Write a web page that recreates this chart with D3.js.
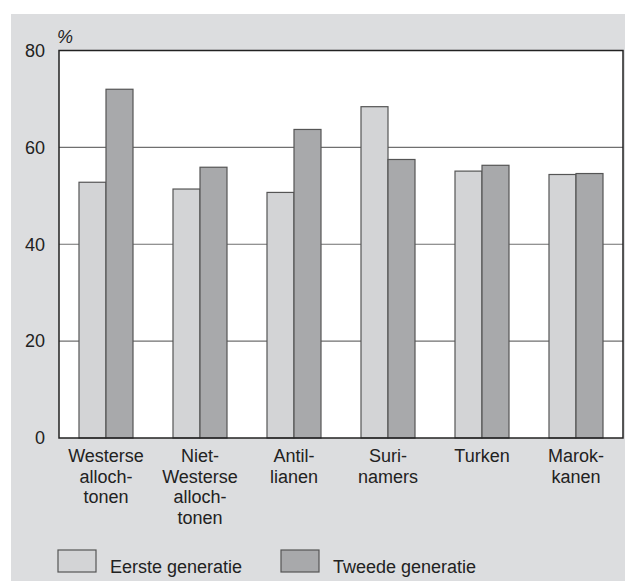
<!DOCTYPE html>
<html><head><meta charset="utf-8">
<script src="https://cdn.jsdelivr.net/npm/d3@7"></script>
<style>body{margin:0;background:#fff}svg{display:block}</style>
</head><body>
<script>
const categories = [["Westerse","alloch-","tonen"],["Niet-","Westerse","alloch-","tonen"],["Antil-","lianen"],["Suri-","namers"],["Turken"],["Marok-","kanen"]];
const eerste = [52.8, 51.4, 50.7, 68.4, 55.1, 54.4];
const tweede = [72.0, 55.9, 63.7, 57.5, 56.3, 54.6];
const yTicks = [0, 20, 40, 60, 80];
const seriesNames = ["Eerste generatie", "Tweede generatie"];
const colors = ["#d3d4d6", "#a8a9ab"];

(function () {
const W = 625, H = 581;
const svg = d3.select("body").append("svg").attr("width", W).attr("height", H)
  .style("font-family", "'Liberation Sans', Arial, sans-serif");
svg.append("rect").attr("x", 11).attr("y", 14).attr("width", W - 11).attr("height", H - 14).attr("fill", "#dcdddf");

const pL = 59, pR = 623, pT = 50.5, pB = 438;
const x = d3.scaleBand().domain(d3.range(categories.length)).range([pL, pR]);
const y = d3.scaleLinear().domain([0, 80]).range([pB, pT]);
const barW = 27;
const fs = 18;

svg.append("rect").attr("x", pL).attr("y", pT).attr("width", pR - pL).attr("height", pB - pT).attr("fill", "#fff");

svg.append("g").selectAll("line").data(yTicks.filter(d => d > 0 && d < 80)).join("line")
  .attr("x1", pL).attr("x2", pR).attr("y1", d => y(d)).attr("y2", d => y(d))
  .attr("stroke", "#6f6f6f").attr("stroke-width", 1.2);

const series = [eerste, tweede];
series.forEach((vals, s) => {
  svg.append("g").selectAll("rect").data(vals).join("rect")
    .attr("x", (d, i) => x(i) + x.bandwidth() / 2 - barW + s * barW)
    .attr("y", d => y(d)).attr("width", barW).attr("height", d => y(0) - y(d))
    .attr("fill", colors[s]).attr("stroke", "#555").attr("stroke-width", 1.2);
});

svg.append("rect").attr("x", pL).attr("y", pT).attr("width", pR - pL).attr("height", pB - pT)
  .attr("fill", "none").attr("stroke", "#222").attr("stroke-width", 1.5);

svg.append("g").selectAll("text").data(yTicks).join("text")
  .attr("x", 45).attr("y", d => y(d)).attr("dy", "0.35em").attr("text-anchor", "end")
  .attr("font-size", fs).attr("fill", "#222").text(d => d);

svg.append("text").attr("x", 57).attr("y", 43).attr("font-size", fs).attr("font-style", "italic").attr("fill", "#222").text("%");

categories.forEach((lines, i) => {
  const t = svg.append("text").attr("text-anchor", "middle").attr("font-size", fs).attr("fill", "#222");
  lines.forEach((l, j) => t.append("tspan").attr("x", x(i) + x.bandwidth() / 2).attr("y", 462 + j * 20.5).text(l));
});

const legX = [58, 281];
seriesNames.forEach((n, s) => {
  svg.append("rect").attr("x", legX[s]).attr("y", 550).attr("width", 38).attr("height", 22)
    .attr("fill", colors[s]).attr("stroke", "#555").attr("stroke-width", 1.2);
  svg.append("text").attr("x", legX[s] + 52).attr("y", 573).attr("font-size", fs).attr("fill", "#222").text(n);
});
})();
</script>
</body></html>
